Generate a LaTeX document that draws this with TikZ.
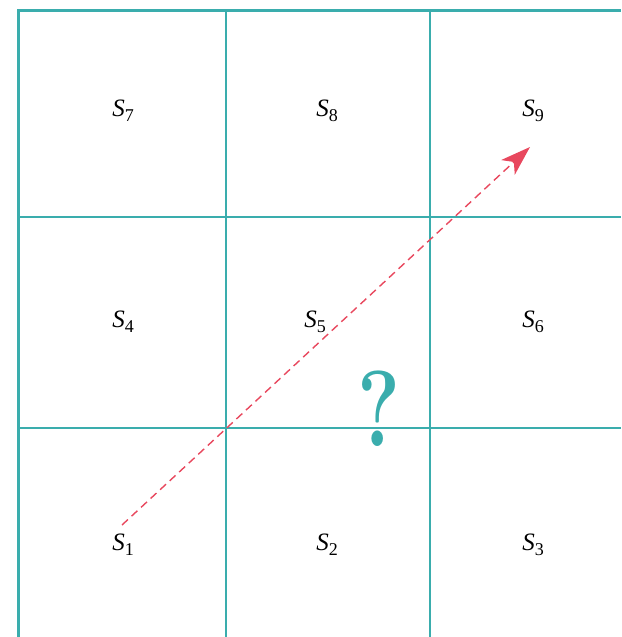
\documentclass[tikz,border=0pt]{standalone}
\usepackage{fontspec}
\usepackage{graphicx}
\setmainfont{Liberation Serif}
\newfontfamily\qfont{Latin Modern Roman}
\usetikzlibrary{arrows.meta}
\definecolor{teal1}{HTML}{3AADAD}
\definecolor{red1}{HTML}{E8485E}
\begin{document}
\begin{tikzpicture}[x=1pt,y=-1pt,
  grid/.style={draw=teal1,line width=1.5pt},
  border/.style={draw=teal1,line width=3pt},
  lab/.style={font=\fontsize{25}{28}\selectfont,inner sep=0pt},
  path1/.style={draw=red1,line width=1.4pt,dash pattern=on 8pt off 5pt,-{Stealth[length=30pt,width=20pt,inset=8pt]}}]
\useasboundingbox (0,0) rectangle (621,637);
\draw[grid] (226,10) -- (226,637);
\draw[grid] (430,10) -- (430,637);
\draw[grid] (18,217) -- (621,217);
\draw[grid] (18,428) -- (621,428);
\draw[border] (18,637) -- (18,10.5) -- (621,10.5);
\newcommand{\Sl}[1]{\textit{S}\raisebox{-0.45ex}{\fontsize{18}{20}\selectfont #1}}
\node[lab] (s7) at (123,111) {\Sl{7}};
\node[lab] (s8) at (327,111) {\Sl{8}};
\node[lab] (s9) at (533,111) {\Sl{9}};
\node[lab] (s4) at (123,322) {\Sl{4}};
\node[lab] (s5) at (315,322) {\Sl{5}};
\node[lab] (s6) at (533,322) {\Sl{6}};
\node[lab] (s1) at (123,545) {\Sl{1}};
\node[lab] (s2) at (327,545) {\Sl{2}};
\node[lab] (s3) at (533,545) {\Sl{3}};
\node[inner sep=0pt,text=teal1,font=\qfont\bfseries\fontsize{108}{108}\selectfont] (q) at (379,409) {\scalebox{0.75}[1]{?}};
\coordinate (a) at (122,525);
\coordinate (b) at (530,147);
\draw[path1] (a) -- (b);
\end{tikzpicture}
\end{document}
